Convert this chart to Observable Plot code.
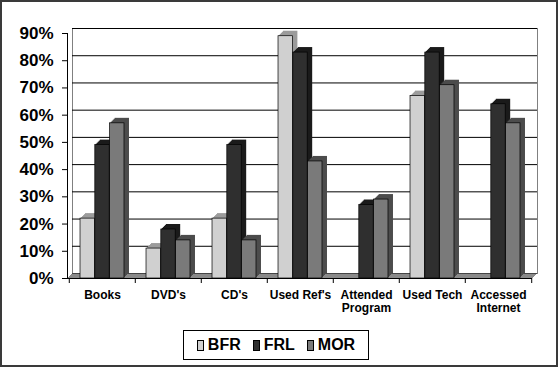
<!DOCTYPE html>
<html><head><meta charset="utf-8">
<script src="https://cdn.jsdelivr.net/npm/d3@7"></script>
<script src="https://cdn.jsdelivr.net/npm/@observablehq/plot@0.6"></script>
<style>
body{margin:0;background:#fff;}
#wrap{position:relative;width:558px;height:367px;box-sizing:border-box;border:2px solid #3a3a3a;background:#fff;font-family:"Liberation Sans",Arial,sans-serif;overflow:hidden;}
#chart svg{display:block;}
#legend{position:absolute;left:181px;top:328px;width:186px;height:30px;box-sizing:border-box;border:1px solid #000;display:flex;align-items:center;justify-content:center;font-weight:bold;font-size:16px;color:#000;}
.item{display:flex;align-items:center;margin:0 6px;}
.sw{width:5px;height:9px;border:1px solid #000;margin-right:4px;}
</style></head>
<body><div id="wrap"><div id="chart"></div><div id="legend"></div></div>
<script>
const categories = ["Books", "DVD's", "CD's", "Used Ref's", "Attended\nProgram", "Used Tech", "Accessed\nInternet"];
const series = ["BFR", "FRL", "MOR"];
const bfr = [22, 11, 22, 89, 0, 67, 0];
const frl = [49, 18, 49, 83, 27, 83, 64];
const mor = [57, 14, 14, 43, 29, 71, 57];
const yTicks = [0, 10, 20, 30, 40, 50, 60, 70, 80, 90];
const frontColors = ["#d0d0d0", "#2f2f2f", "#7a7a7a"];
const depthColors = ["#9c9c9c", "#1b1b1b", "#4c4c4c"];

const values = [bfr, frl, mor];
const data = categories.flatMap((c, i) => series.map((s, j) => ({cat: c, series: s, value: values[j][i]})));

const W = 554, H = 322;
const mL = 65, mR = 24, mT = 31, mB = 46;
const step = (W - mL - mR) / categories.length;
const bw = 14.8;
const inset = (step - bw) / 2;
const depth = 5;

const marks = [];
// floor
for (let k = depth; k >= 0; k--) {
  marks.push(Plot.ruleY([0], {dx: k, dy: -k, stroke: "#8a8a8a", strokeWidth: 1.2}));
}
// back wall gridlines and outline
marks.push(Plot.ruleY(yTicks.filter(d => d > 0), {dx: depth, dy: -depth, stroke: "#000", strokeWidth: 1}));
marks.push(Plot.frame({dx: depth, dy: -depth, stroke: "#000", strokeDasharray: "1,1"}));
// bars
series.forEach((s, j) => {
  const d = data.filter(r => r.series === s && r.value > 0);
  for (let k = depth; k >= 1; k--) {
    marks.push(Plot.barY(d, {x: "cat", y: "value", fill: depthColors[j], insetLeft: inset, insetRight: inset, dx: (j - 1) * bw + k, dy: -k}));
  }
  marks.push(Plot.barY(d, {x: "cat", y: "value", fill: frontColors[j], stroke: "#000", strokeWidth: 0.7, insetLeft: inset, insetRight: inset, dx: (j - 1) * bw}));
});
// axis lines
marks.push(Plot.ruleY([0], {stroke: "#000"}));
marks.push(Plot.frame({anchor: "left", stroke: "#000"}));
// axes
marks.push(Plot.axisY({ticks: yTicks, tickFormat: d => d + "%", tickSize: 5, tickPadding: 9, fontSize: 17, fontWeight: "bold", label: null}));
marks.push(Plot.axisX({tickSize: 0, tickPadding: 11, fontSize: 12, fontWeight: "bold", lineHeight: 1.1, label: null}));
marks.push(Plot.axisX({tickSize: 5, tickFormat: () => "", dx: -step / 2, label: null}));
marks.push(Plot.axisX([categories[categories.length - 1]], {tickSize: 5, tickFormat: () => "", dx: step / 2, label: null}));

const chart = Plot.plot({
  width: W, height: H,
  marginLeft: mL, marginRight: mR, marginTop: mT, marginBottom: mB,
  x: {domain: categories, padding: 0},
  y: {domain: [0, 90]},
  style: {fontFamily: "'Liberation Sans', Arial, sans-serif", background: "white", color: "#000"},
  marks
});
document.getElementById("chart").appendChild(chart);

const legend = document.getElementById("legend");
series.forEach((s, j) => {
  const it = document.createElement("div");
  it.className = "item";
  const sw = document.createElement("span");
  sw.className = "sw";
  sw.style.background = frontColors[j];
  const t = document.createElement("span");
  t.textContent = s;
  it.appendChild(sw); it.appendChild(t);
  legend.appendChild(it);
});
</script>
</body></html>
